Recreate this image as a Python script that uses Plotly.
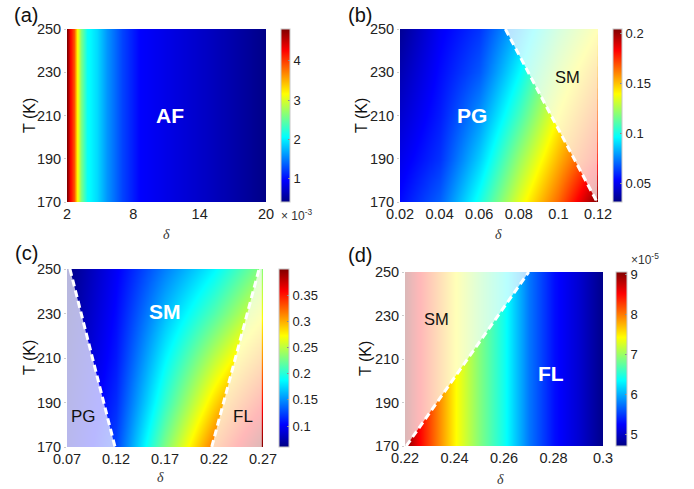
import plotly.graph_objects as go

W, H = 694, 489

# ---------------- data ----------------
# (a) AF : delta in units of 1e-3
a_delta = [2, 2.3, 2.6, 2.9, 3.3, 3.8, 4.7, 5.6, 7, 8.6, 11, 14, 17, 20]
a_T = [170, 250]
a_row = [4.81, 4.3, 3.9, 3.2, 2.6, 2.1, 1.9, 1.6, 1.25, 0.96, 0.85, 0.72, 0.58, 0.42]
a_z = [a_row, a_row]

# (b) PG / SM
b_delta = [0.02, 0.04, 0.06, 0.08, 0.10, 0.12]
b_T = [170, 190, 210, 230, 250]
b_z = [
    [0.055, 0.070, 0.100, 0.135, 0.165, 0.204],
    [0.050, 0.062, 0.088, 0.122, 0.152, 0.180],
    [0.045, 0.058, 0.078, 0.108, 0.140, 0.168],
    [0.040, 0.055, 0.068, 0.096, 0.128, 0.155],
    [0.035, 0.052, 0.062, 0.085, 0.115, 0.140],
]
b_sm_delta = [0.0732, 0.12, 0.1195]
b_sm_T = [250, 250, 170]

# (c) PG / SM / FL
c_delta = [0.07, 0.12, 0.17, 0.22, 0.27]
c_T = [170, 190, 210, 230, 250]
c_z = [
    [0.080, 0.125, 0.230, 0.320, 0.400],
    [0.075, 0.117, 0.205, 0.285, 0.355],
    [0.070, 0.110, 0.185, 0.250, 0.310],
    [0.065, 0.105, 0.165, 0.215, 0.270],
    [0.060, 0.100, 0.145, 0.185, 0.235],
]
c_pg_delta = [0.07, 0.073, 0.119, 0.07]
c_pg_T = [250, 250, 170, 170]
c_fl_delta = [0.2177, 0.266, 0.2688, 0.2688]
c_fl_T = [170, 250, 250, 170]

# (d) SM / FL : values in units of 1e-5
d_delta = [0.22, 0.225, 0.23, 0.24, 0.25, 0.26, 0.27, 0.28, 0.29, 0.30]
d_T = [170, 250]
d_row = [9.05, 8.6, 8.2, 7.45, 6.9, 6.4, 5.75, 5.3, 5.05, 4.72]
d_z = [d_row, d_row]
d_sm_delta = [0.22, 0.2205, 0.270, 0.22]
d_sm_T = [170, 170, 250, 250]

# ---------------- style ----------------
jet = [[0, 'rgb(0,0,132)'], [0.125, 'rgb(0,0,255)'], [0.375, 'rgb(0,255,255)'],
       [0.625, 'rgb(255,255,0)'], [0.875, 'rgb(255,0,0)'], [1, 'rgb(128,0,0)']]
SANS = 'Liberation Sans, Arial, sans-serif'
SERIF = 'Liberation Serif, Times New Roman, serif'
OVER = 'rgba(255,255,255,0.72)'
TICK = 14.5
CBT = 13

def px_x(p):
    return p / W

def px_y(p):
    return 1 - p / H

panels = [
    dict(x0=67, x1=266, y0=29, y1=202, cb=281, cbw=9),
    dict(x0=400, x1=598, y0=29, y1=202, cb=613, cbw=9),
    dict(x0=67, x1=263, y0=269, y1=447, cb=279, cbw=10),
    dict(x0=405, x1=603, y0=272, y1=446, cb=616, cbw=11),
]

fig = go.Figure()

def cbar(p, tickvals, ticktext):
    return dict(
        x=px_x(p['cb']), xanchor='left', xpad=0, ypad=0,
        y=px_y((p['y0'] + p['y1']) / 2), yanchor='middle',
        len=p['y1'] - p['y0'], lenmode='pixels',
        thickness=p['cbw'], thicknessmode='pixels',
        outlinewidth=1, outlinecolor='#c8c8c8',
        tickvals=tickvals, ticktext=ticktext,
        ticks='inside', ticklen=2, tickcolor='#888',
        tickfont=dict(family=SANS, size=CBT, color='#222'),
    )

data = [
    (a_delta, a_T, a_z, 0.41, 4.81, [1, 2, 3, 4], ['1', '2', '3', '4']),
    (b_delta, b_T, b_z, 0.032, 0.204, [0.05, 0.1, 0.15, 0.2], ['0.05', '0.1', '0.15', '0.2']),
    (c_delta, c_T, c_z, 0.06, 0.40, [0.1, 0.15, 0.2, 0.25, 0.3, 0.35],
     ['0.1', '0.15', '0.2', '0.25', '0.3', '0.35']),
    (d_delta, d_T, d_z, 4.7, 9.06, [5, 6, 7, 8, 9], ['5', '6', '7', '8', '9']),
]

xticks = [
    ([2, 8, 14, 20], ['2', '8', '14', '20']),
    ([0.02, 0.04, 0.06, 0.08, 0.1, 0.12], ['0.02', '0.04', '0.06', '0.08', '0.1', '0.12']),
    ([0.07, 0.12, 0.17, 0.22, 0.27], ['0.07', '0.12', '0.17', '0.22', '0.27']),
    ([0.22, 0.24, 0.26, 0.28, 0.3], ['0.22', '0.24', '0.26', '0.28', '0.3']),
]
yticks = [170, 190, 210, 230, 250]

for i, (p, (xs, ys, z, zmin, zmax, tv, tt)) in enumerate(zip(panels, data)):
    n = '' if i == 0 else str(i + 1)
    fig.add_trace(go.Heatmap(
        x=xs, y=ys, z=z, zmin=zmin, zmax=zmax, colorscale=jet,
        zsmooth='best', colorbar=cbar(p, tv, tt), hoverinfo='skip',
        xaxis='x' + n, yaxis='y' + n,
    ))
    fig.update_layout({
        'xaxis' + n: dict(domain=[px_x(p['x0']), px_x(p['x1'])], anchor='y' + n,
                          range=[xs[0], xs[-1]], tickvals=xticks[i][0], ticktext=xticks[i][1],
                          showgrid=False, zeroline=False, showline=False,
                          ticks='', ticklabelstandoff=1,
                          tickfont=dict(family=SANS, size=TICK, color='#222')),
        'yaxis' + n: dict(domain=[px_y(p['y1']), px_y(p['y0'])], anchor='x' + n,
                          range=[170, 250], tickvals=yticks,
                          showgrid=False, zeroline=False, showline=False,
                          ticks='outside', ticklen=2, tickcolor='#ccc',
                          tickfont=dict(family=SANS, size=TICK, color='#222')),
    })

def overlay(xs, ys, n):
    fig.add_trace(go.Scatter(x=xs, y=ys, fill='toself', fillcolor=OVER, mode='lines',
                             line=dict(width=0), hoverinfo='skip', showlegend=False,
                             xaxis='x' + n, yaxis='y' + n))

def dashed(xs, ys, n):
    fig.add_trace(go.Scatter(x=xs, y=ys, mode='lines',
                             line=dict(color='white', width=3, dash='7px,4px'),
                             hoverinfo='skip', showlegend=False,
                             xaxis='x' + n, yaxis='y' + n))

overlay(b_sm_delta, b_sm_T, '2')
dashed([b_sm_delta[0], b_sm_delta[2]], [b_sm_T[0], b_sm_T[2]], '2')
overlay(c_pg_delta, c_pg_T, '3')
overlay(c_fl_delta, c_fl_T, '3')
dashed([c_pg_delta[1], c_pg_delta[2]], [c_pg_T[1], c_pg_T[2]], '3')
dashed([c_fl_delta[0], c_fl_delta[1]], [c_fl_T[0], c_fl_T[1]], '3')
overlay(d_sm_delta, d_sm_T, '4')
dashed([d_sm_delta[1], d_sm_delta[2]], [d_sm_T[1], d_sm_T[2]], '4')

ann = []

def region(text, x, y, n, white, bold, size):
    ann.append(dict(text=('<b>%s</b>' % text) if bold else text, x=x, y=y,
                    xref='x' + n, yref='y' + n, showarrow=False,
                    font=dict(family=SANS, size=size, color='white' if white else '#111')))

region('AF', 11.3, 210, '', True, True, 21)
region('PG', 0.0564, 210, '2', True, True, 21)
region('SM', 0.1048, 228, '2', False, False, 16.5)
region('SM', 0.17, 231, '3', True, True, 21)
region('PG', 0.0866, 183.6, '3', False, False, 17)
region('FL', 0.2493, 183.6, '3', False, False, 17)
region('SM', 0.2329, 228.4, '4', False, False, 16.5)
region('FL', 0.279, 203.4, '4', True, True, 21)

def ptxt(text, x, y, size, family=SANS, angle=0, color='#111'):
    ann.append(dict(text=text, x=px_x(x), y=px_y(y), xref='paper', yref='paper',
                    showarrow=False, textangle=angle, xanchor='center', yanchor='middle',
                    font=dict(family=family, size=size, color=color)))

for (x, y, t) in [(26, 15, '(a)'), (360, 15, '(b)'), (26, 253, '(c)'), (360, 255, '(d)')]:
    ptxt(t, x, y, 20)
for (x, y) in [(29, 116), (361, 116), (29, 358), (365, 359)]:
    ptxt('T (K)', x, y, 16, angle=-90)
for (x, y) in [(166, 235), (498, 235), (160, 477), (500, 479)]:
    ptxt('<i>δ</i>', x, y, 14, family=SERIF, color='#333')
ptxt('× 10<sup>-3</sup>', 296, 215, 12, color='#333')
ptxt('×10<sup>-5</sup>', 645, 259, 12, color='#333')

fig.update_layout(width=W, height=H,
                  margin=dict(l=0, r=0, t=0, b=0, autoexpand=False),
                  paper_bgcolor='white', plot_bgcolor='white', showlegend=False,
                  annotations=ann)

fig.write_html('out.html', config={'displayModeBar': False},
               post_script="document.body.style.margin='0';"
                           "document.body.style.overflow='hidden';")
